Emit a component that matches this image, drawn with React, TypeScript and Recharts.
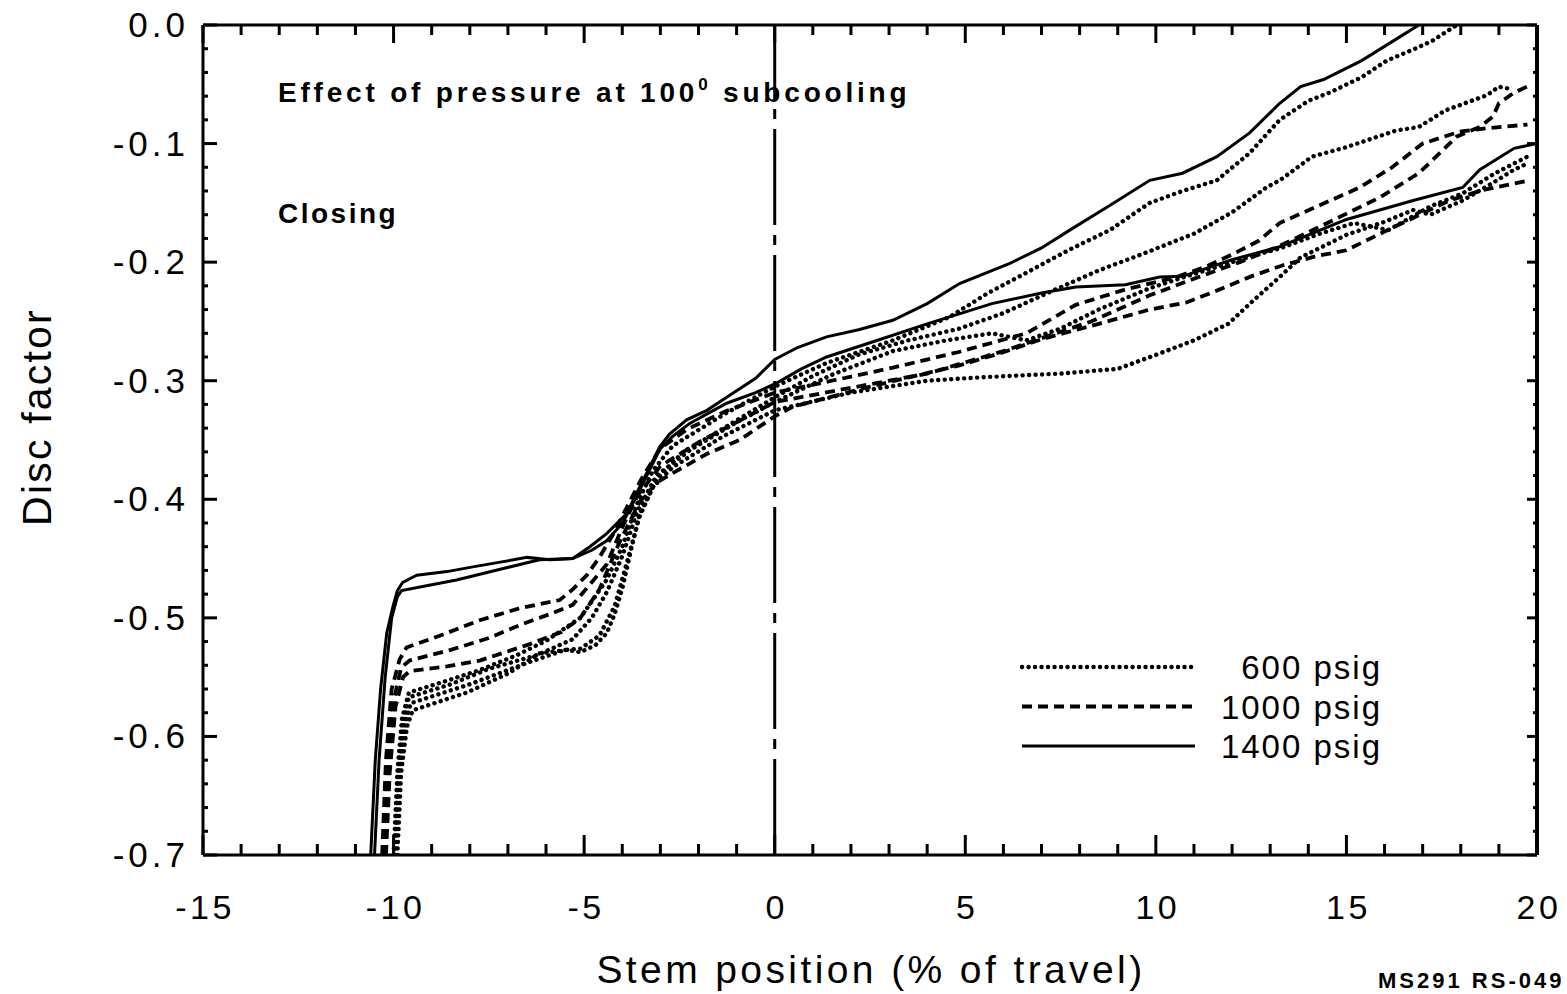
import { Legend, Line, LineChart, ReferenceLine, XAxis, YAxis } from 'recharts'

type Pt = [number, number]

// 1400 psig runs (solid)
const p1400a: Pt[] = [
  [-10.6, -0.7], [-10.48, -0.62], [-10.34, -0.56], [-10.18, -0.513], [-10.02, -0.491], [-9.9, -0.477],
  [-9.76, -0.47], [-9.39, -0.464], [-8.6, -0.461], [-7.92, -0.457], [-7.2, -0.453], [-6.5, -0.449],
  [-5.9, -0.451], [-5.3, -0.45], [-4.85, -0.44], [-4.41, -0.429], [-3.88, -0.412], [-3.55, -0.39],
  [-3.28, -0.373], [-3.02, -0.356], [-2.76, -0.345], [-2.31, -0.333], [-1.78, -0.325], [-1.26, -0.314],
  [-0.5, -0.298], [0, -0.282], [0.6, -0.272], [1.36, -0.263], [2.2, -0.257], [3.1, -0.249], [4.0, -0.235],
  [4.85, -0.218], [6.17, -0.201], [7.0, -0.188], [7.74, -0.173], [8.8, -0.152], [9.84, -0.131],
  [10.7, -0.125], [11.6, -0.111], [12.46, -0.091], [13.25, -0.066], [13.8, -0.052], [14.4, -0.046],
  [15.4, -0.03], [16.4, -0.01], [16.9, 0],
]
const p1400b: Pt[] = [
  [-10.5, -0.7], [-10.38, -0.62], [-10.22, -0.55], [-10.05, -0.5], [-9.9, -0.482], [-9.79, -0.477],
  [-9.0, -0.472], [-8.35, -0.468], [-7.2, -0.459], [-6.17, -0.451], [-5.3, -0.45], [-4.8, -0.443],
  [-4.41, -0.435], [-3.99, -0.42], [-3.54, -0.392], [-3.02, -0.358], [-2.68, -0.347], [-2.23, -0.336],
  [-1.26, -0.319], [-0.5, -0.31], [0.05, -0.302], [0.7, -0.29], [1.36, -0.28], [2.5, -0.268], [4.0, -0.252],
  [5.7, -0.235], [7.0, -0.226], [7.9, -0.221], [9.2, -0.219], [10.1, -0.2125], [10.7, -0.212], [12.0, -0.198],
  [13.25, -0.187], [15.0, -0.164], [16.75, -0.148], [18.05, -0.137], [18.5, -0.122], [19.4, -0.104], [20, -0.1],
]

// 1000 psig runs (dashed)
const p1000a: Pt[] = [
  [-10.3, -0.7], [-10.2, -0.62], [-10.05, -0.56], [-9.84, -0.535], [-9.66, -0.525], [-8.7, -0.514],
  [-7.74, -0.502], [-6.7, -0.492], [-5.64, -0.485], [-5.3, -0.476], [-4.93, -0.464], [-4.6, -0.449],
  [-4.25, -0.43], [-3.9, -0.408], [-3.5, -0.383], [-3.0, -0.357], [-2.3, -0.341], [-1.3, -0.326], [0, -0.31],
  [1.5, -0.3], [3.1, -0.289], [4.8, -0.276], [6.6, -0.26], [7.9, -0.236], [9.2, -0.223], [10.5, -0.213],
  [11.3, -0.204], [12.1, -0.192], [12.7, -0.182], [13.25, -0.167], [14.3, -0.152], [15.35, -0.137],
  [16.2, -0.12], [17.0, -0.1], [17.97, -0.09], [18.7, -0.087], [19.75, -0.084],
]
const p1000b: Pt[] = [
  [-10.25, -0.7], [-10.15, -0.63], [-10.0, -0.57], [-9.8, -0.542], [-9.58, -0.536], [-8.5, -0.527],
  [-7.5, -0.517], [-6.6, -0.505], [-5.83, -0.496], [-5.3, -0.489], [-4.8, -0.47], [-4.41, -0.455],
  [-3.99, -0.423], [-3.6, -0.397], [-3.0, -0.372], [-2.0, -0.352], [-1.0, -0.335], [0, -0.318], [2.0, -0.306],
  [4.0, -0.294], [6.0, -0.275], [7.2, -0.262], [8.3, -0.25], [9.84, -0.228], [11.0, -0.214], [12.2, -0.2],
  [13.2, -0.187], [14.5, -0.167], [15.9, -0.145], [16.9, -0.125], [17.9, -0.094], [18.5, -0.086],
  [18.85, -0.077], [19.0, -0.066], [19.4, -0.057], [19.8, -0.051],
]
const p1000c: Pt[] = [
  [-10.2, -0.7], [-10.1, -0.63], [-9.95, -0.575], [-9.75, -0.55], [-9.58, -0.545], [-8.6, -0.541],
  [-7.74, -0.536], [-6.5, -0.523], [-5.6, -0.512], [-5.1, -0.5], [-4.6, -0.476], [-4.07, -0.436],
  [-3.54, -0.402], [-3.1, -0.386], [-2.68, -0.378], [-1.8, -0.362], [-0.92, -0.35], [0, -0.33], [0.47, -0.322],
  [2.5, -0.305], [4.85, -0.287], [6.0, -0.276], [7.0, -0.265], [8.5, -0.252], [9.84, -0.24], [10.8, -0.234],
  [11.6, -0.224], [12.5, -0.212], [13.3, -0.203], [14.2, -0.195], [15.0, -0.19], [15.95, -0.175],
  [16.8, -0.162], [17.7, -0.148], [18.6, -0.139], [19.8, -0.131],
]

// 600 psig runs (dotted)
const p600a: Pt[] = [
  [-10.0, -0.7], [-9.9, -0.63], [-9.78, -0.585], [-9.6, -0.563], [-8.6, -0.553], [-7.74, -0.544],
  [-6.8, -0.532], [-5.98, -0.519], [-5.1, -0.5], [-4.41, -0.468], [-4.0, -0.44], [-3.6, -0.403],
  [-3.2, -0.376], [-2.68, -0.355], [-1.26, -0.327], [0, -0.305], [1.36, -0.285], [3.1, -0.266],
  [4.6, -0.246], [5.6, -0.226], [6.6, -0.209], [7.7, -0.19], [8.79, -0.173], [9.84, -0.15], [10.7, -0.14],
  [11.6, -0.131], [12.46, -0.108], [13.25, -0.08], [14.0, -0.064], [14.56, -0.057], [15.4, -0.044],
  [16.06, -0.03], [16.8, -0.02], [17.27, -0.013], [17.9, 0],
]
const p600b: Pt[] = [
  [-9.95, -0.7], [-9.85, -0.63], [-9.7, -0.59], [-9.55, -0.572], [-8.0, -0.556], [-6.5, -0.538],
  [-5.5, -0.527], [-5.1, -0.526], [-4.6, -0.515], [-4.2, -0.49], [-3.85, -0.45], [-3.55, -0.415],
  [-3.1, -0.383], [-2.4, -0.36], [-1.44, -0.342], [0, -0.314], [1.0, -0.296], [2.2, -0.278], [3.5, -0.266],
  [4.85, -0.256], [6.0, -0.243], [7.3, -0.224], [8.5, -0.207], [9.66, -0.193], [11.0, -0.176], [12.0, -0.158],
  [12.9, -0.137], [13.25, -0.131], [14.1, -0.111], [15.0, -0.103], [16.3, -0.089], [16.9, -0.086],
  [17.6, -0.072], [18.7, -0.059], [19.0, -0.052], [19.3, -0.054],
]
const p600c: Pt[] = [
  [-9.9, -0.7], [-9.8, -0.63], [-9.65, -0.592], [-9.5, -0.578], [-8.08, -0.563], [-7.0, -0.547],
  [-6.17, -0.53], [-5.46, -0.527], [-5.1, -0.529], [-4.7, -0.523], [-4.41, -0.513], [-4.2, -0.497],
  [-3.99, -0.474], [-3.75, -0.44], [-3.54, -0.412], [-3.2, -0.39], [-2.68, -0.373], [-1.36, -0.347],
  [0, -0.325], [2.0, -0.31], [4.0, -0.3], [5.5, -0.297], [7.5, -0.294], [9.0, -0.29], [10.1, -0.277],
  [11.0, -0.266], [11.9, -0.252], [12.5, -0.234], [13.25, -0.2125], [13.8, -0.196], [15.0, -0.177],
  [16.0, -0.166], [16.75, -0.156], [17.2, -0.16], [18.05, -0.148], [18.8, -0.134], [19.4, -0.122], [19.8, -0.116],
]
const p600d: Pt[] = [
  [-9.98, -0.7], [-9.88, -0.63], [-9.75, -0.59], [-9.6, -0.567], [-8.5, -0.556], [-7.5, -0.543],
  [-6.2, -0.531], [-5.3, -0.518], [-4.8, -0.5], [-4.4, -0.478], [-4.0, -0.448], [-3.6, -0.41], [-3.1, -0.38],
  [-2.2, -0.358], [-1.0, -0.335], [0, -0.318], [1.5, -0.295], [3.1, -0.275], [4.5, -0.266], [5.7, -0.26],
  [6.6, -0.266], [7.5, -0.256], [8.5, -0.24], [9.84, -0.222], [10.8, -0.212], [11.6, -0.204], [12.5, -0.195],
  [13.3, -0.188], [14.3, -0.176], [15.2, -0.167], [16.1, -0.173], [17.2, -0.153], [18.05, -0.142],
  [18.9, -0.125], [19.75, -0.111],
]

const xTicks = [
  -15, -14, -13, -12, -11, -10, -9, -8, -7, -6, -5, -4, -3, -2, -1, 0, 1, 2, 3, 4, 5, 6, 7, 8, 9, 10,
  11, 12, 13, 14, 15, 16, 17, 18, 19, 20,
]
const xLabelled = [-15, -10, -5, 0, 5, 10, 15, 20]
const yTicks = [
  0, -0.02, -0.04, -0.06, -0.08, -0.1, -0.12, -0.14, -0.16, -0.18, -0.2, -0.22, -0.24, -0.26, -0.28,
  -0.3, -0.32, -0.34, -0.36, -0.38, -0.4, -0.42, -0.44, -0.46, -0.48, -0.5, -0.52, -0.54, -0.56, -0.58,
  -0.6, -0.62, -0.64, -0.66, -0.68, -0.7,
]
const yLabelled = ['0.0', '-0.1', '-0.2', '-0.3', '-0.4', '-0.5', '-0.6', '-0.7']
const legendLabels = ['600 psig', '1000 psig', '1400 psig']

const FONT = '"Liberation Sans", Arial, Helvetica, sans-serif'
const DOTTED = { strokeDasharray: '0.1 6.4', strokeLinecap: 'round' as const, strokeWidth: 4.4 }
const DASHED = { strokeDasharray: '10 6', strokeWidth: 3.8 }
const SOLID = { strokeWidth: 3 }

// the 600 psig runs are drawn against the top/right frame axes (same domains as bottom/left)
const series: { key: string; pts: Pt[]; style: Record<string, unknown>; xId: string; yId: string }[] = [
  { key: '600a', pts: p600a, style: DOTTED, xId: 't', yId: 'r' },
  { key: '600b', pts: p600b, style: DOTTED, xId: 't', yId: 'r' },
  { key: '600c', pts: p600c, style: DOTTED, xId: 't', yId: 'r' },
  { key: '600d', pts: p600d, style: DOTTED, xId: 't', yId: 'r' },
  { key: '1000a', pts: p1000a, style: DASHED, xId: 'b', yId: 'l' },
  { key: '1000b', pts: p1000b, style: DASHED, xId: 'b', yId: 'l' },
  { key: '1000c', pts: p1000c, style: DASHED, xId: 'b', yId: 'l' },
  { key: '1400a', pts: p1400a, style: SOLID, xId: 'b', yId: 'l' },
  { key: '1400b', pts: p1400b, style: SOLID, xId: 'b', yId: 'l' },
]

const toRows = (pts: Pt[]) => pts.map(([x, y]) => ({ x, y }))

const isMajorY = (v: number) => Math.abs(v * 10 - Math.round(v * 10)) < 1e-6
const yLabelFor = (v: number) => yLabelled.find((s) => Math.abs(Number(s) - v) < 1e-6)

function BottomTick(props: any) {
  const { x, y, payload } = props
  const v = payload.value as number
  const major = xLabelled.includes(v)
  return (
    <g>
      <line x1={x} y1={y} x2={x} y2={y - (major ? 20 : 11)} stroke="#000" strokeWidth={3} />
      {major && (
        <text x={x + 2} y={y + 64} textAnchor="middle" fontSize={34} letterSpacing={3.5} fontFamily={FONT} fill="#000">
          {v}
        </text>
      )}
    </g>
  )
}

function TopTick(props: any) {
  const { x, y, payload } = props
  const major = xLabelled.includes(payload.value as number)
  return <line x1={x} y1={y} x2={x} y2={y + (major ? 18 : 10)} stroke="#000" strokeWidth={3} />
}

function LeftTick(props: any) {
  const { x, y, payload } = props
  const v = payload.value as number
  const major = isMajorY(v)
  return (
    <g>
      <line x1={x} y1={y} x2={x + (major ? 14 : 5)} y2={y} stroke="#000" strokeWidth={3} />
      {major && (
        <text x={x - 14} y={y + 12} textAnchor="end" fontSize={35} letterSpacing={4} fontFamily={FONT} fill="#000">
          {yLabelFor(v)}
        </text>
      )}
    </g>
  )
}

function RightTick(props: any) {
  const { x, y, payload } = props
  const major = isMajorY(payload.value as number)
  return <line x1={x} y1={y} x2={x - (major ? 10 : 4)} y2={y} stroke="#000" strokeWidth={3} />
}

function LegendBox() {
  const styles = [DOTTED, DASHED, SOLID]
  return (
    <svg width={380} height={120} style={{ overflow: 'visible' }}>
      {legendLabels.map((label, i) => {
        const y = 22 + i * 39.5
        return (
          <g key={label}>
            <line x1={7} x2={180} y1={y} y2={y} stroke="#000" {...(styles[i] as any)} />
            <text x={367} y={y + 12} textAnchor="end" fontSize={33} letterSpacing={2} fontFamily={FONT} fill="#000">
              {label}
            </text>
          </g>
        )
      })}
    </svg>
  )
}

export default function App() {
  return (
    <div style={{ position: 'absolute', left: 0, top: 0, width: 1567, height: 994, background: '#fff', overflow: 'hidden' }}>
      <LineChart width={1567} height={994} margin={{ top: 24, right: 29, bottom: 79, left: 13 }}>
        <XAxis
          xAxisId="b"
          type="number"
          dataKey="x"
          domain={[-15, 20]}
          ticks={xTicks}
          interval={0}
          height={60}
          tickSize={0}
          tickMargin={0}
          axisLine={{ stroke: '#000', strokeWidth: 3 }}
          tick={<BottomTick />}
          allowDataOverflow
        />
        <XAxis
          xAxisId="t"
          orientation="top"
          type="number"
          dataKey="x"
          domain={[-15, 20]}
          ticks={xTicks}
          interval={0}
          height={1}
          tickSize={0}
          tickMargin={0}
          axisLine={{ stroke: '#000', strokeWidth: 3 }}
          tick={<TopTick />}
          allowDataOverflow
        />
        <YAxis
          yAxisId="l"
          type="number"
          dataKey="y"
          domain={[-0.7, 0]}
          ticks={yTicks}
          interval={0}
          width={190}
          tickSize={0}
          tickMargin={0}
          axisLine={{ stroke: '#000', strokeWidth: 3 }}
          tick={<LeftTick />}
          allowDataOverflow
        />
        <YAxis
          yAxisId="r"
          orientation="right"
          type="number"
          dataKey="y"
          domain={[-0.7, 0]}
          ticks={yTicks}
          interval={0}
          width={1}
          tickSize={0}
          tickMargin={0}
          axisLine={{ stroke: '#000', strokeWidth: 4 }}
          tick={<RightTick />}
          allowDataOverflow
        />
        <ReferenceLine
          x={0}
          xAxisId="b"
          yAxisId="l"
          stroke="#000"
          strokeWidth={3}
          strokeDasharray="96 10 10 10"
        />
        {series.map((s) => (
          <Line
            key={s.key}
            xAxisId={s.xId}
            yAxisId={s.yId}
            data={toRows(s.pts)}
            dataKey="y"
            type="linear"
            stroke="#000"
            dot={false}
            activeDot={false}
            isAnimationActive={false}
            {...(s.style as any)}
          />
        ))}
        <Legend
          layout="horizontal"
          verticalAlign="middle"
          align="center"
          content={() => <LegendBox />}
          wrapperStyle={{ left: 1015, top: 645, width: 380, height: 120 }}
        />
      </LineChart>
      <svg
        width={1567}
        height={994}
        style={{ position: 'absolute', left: 0, top: 0, pointerEvents: 'none' }}
        fontFamily={FONT}
      >
        <text x={278} y={102} fontSize={28} fontWeight="bold" letterSpacing={3.8} fill="#000">
          Effect of pressure at 100
          <tspan fontSize={17} dy={-12}>0</tspan>
          <tspan dy={12}> subcooling</tspan>
        </text>
        <text x={278} y={223} fontSize={28} fontWeight="bold" letterSpacing={2.5} fill="#000">
          Closing
        </text>
        <text x={51} y={417} transform="rotate(-90 51 417)" textAnchor="middle" fontSize={41} letterSpacing={2.2} fill="#000">
          Disc factor
        </text>
        <text x={871} y={983} textAnchor="middle" fontSize={39} letterSpacing={3.4} fill="#000">
          Stem position (% of travel)
        </text>
        <text x={1378} y={988} fontSize={22} fontWeight="bold" letterSpacing={3} fill="#000">
          MS291 RS-049
        </text>
      </svg>
    </div>
  )
}
